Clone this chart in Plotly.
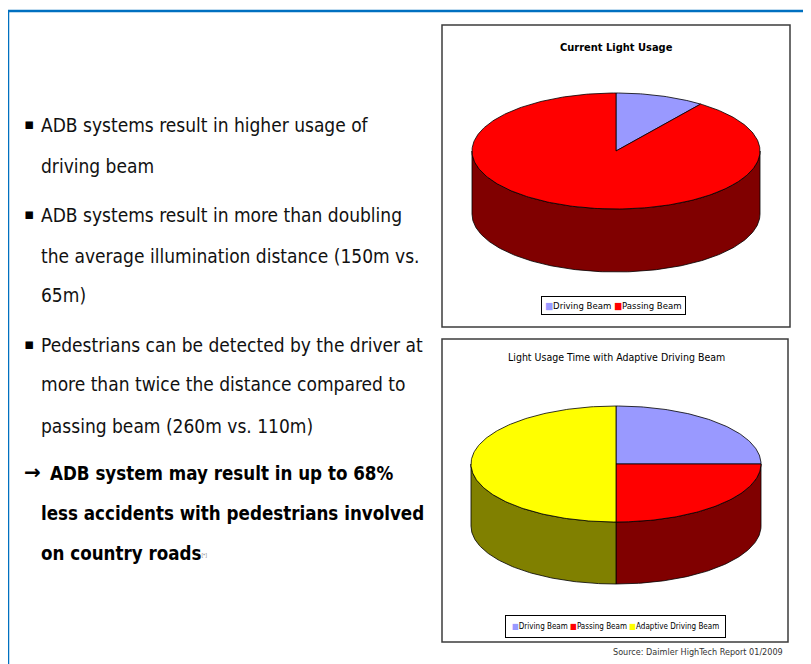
import numpy as np
import plotly.graph_objects as go

# ---------------- data ----------------
chart1_title = "Current Light Usage"
chart1_labels = ["Driving Beam", "Passing Beam"]
chart1_values = [10, 90]

chart2_title = "Light Usage Time with Adaptive Driving Beam"
chart2_labels = ["Driving Beam", "Passing Beam", "Adaptive Driving Beam"]
chart2_values = [25, 25, 50]

bullet_points = [
    ["ADB systems result in higher usage of", "driving beam"],
    ["ADB systems result in more than doubling",
     "the average illumination distance (150m vs.", "65m)"],
    ["Pedestrians can be detected by the driver at",
     "more than twice the distance compared to",
     "passing beam (260m vs. 110m)"],
]
conclusion_lines = ["ADB system may result in up to 68%",
                    "less accidents with pedestrians involved",
                    "on country roads"]
source_text = "Source: Daimler HighTech Report 01/2009"

# ---------------- styles ----------------
W, H = 811, 664
OFF = 8  # page body margin compensation
TOP_COL = {"Driving Beam": "#9999FF", "Passing Beam": "#FF0000",
           "Adaptive Driving Beam": "#FFFF00"}
SIDE_COL = {"Driving Beam": "#4C4C80", "Passing Beam": "#800000",
            "Adaptive Driving Beam": "#808000"}
NARROW = "Liberation Sans Narrow, Arial Narrow, DejaVu Sans Condensed, sans-serif"

PIE1 = dict(cx=616, cy=151, rx=144, ry=58, depth=63)
PIE2 = dict(cx=616, cy=464, rx=145, ry=58, depth=62)

fig = go.Figure()


def arc(g, a0, a1, dy=0.0):
    n = max(int(abs(a1 - a0)) + 2, 3)
    t = np.radians(np.linspace(a0, a1, n))
    return g["cx"] + g["rx"] * np.sin(t), g["cy"] - g["ry"] * np.cos(t) + dy


def add_pie3d(labels, values, g):
    total = float(sum(values))
    bounds = np.concatenate([[0.0], np.cumsum(values) / total * 360.0])
    # side walls (front half: 90..270 deg clockwise from 12 o'clock)
    for lab, a0, a1 in zip(labels, bounds[:-1], bounds[1:]):
        s, e = max(a0, 90.0), min(a1, 270.0)
        if e <= s:
            continue
        xt, yt = arc(g, s, e)
        xb, yb = arc(g, e, s, g["depth"])
        fig.add_trace(go.Scatter(
            x=np.concatenate([xt, xb, xt[:1]]), y=np.concatenate([yt, yb, yt[:1]]),
            mode="lines", fill="toself", fillcolor=SIDE_COL[lab],
            line=dict(color="black", width=0.8), hoverinfo="skip", showlegend=False))
    # top faces
    for lab, v, a0, a1 in zip(labels, values, bounds[:-1], bounds[1:]):
        xa, ya = arc(g, a0, a1)
        fig.add_trace(go.Scatter(
            x=np.concatenate([[g["cx"]], xa, [g["cx"]]]),
            y=np.concatenate([[g["cy"]], ya, [g["cy"]]]),
            mode="lines", fill="toself", fillcolor=TOP_COL[lab],
            line=dict(color="black", width=0.8), name=lab,
            hovertemplate=f"{lab}: {v}%<extra></extra>", showlegend=False))


add_pie3d(chart1_labels, chart1_values, PIE1)
add_pie3d(chart2_labels, chart2_values, PIE2)

shapes = [
    # slide frame (blue)
    dict(type="line", x0=8, x1=W, y0=11, y1=11, line=dict(color="#0070C0", width=2.5)),
    dict(type="line", x0=8, x1=8, y0=11, y1=H, line=dict(color="#0070C0", width=2.5)),
    # chart boxes
    dict(type="rect", x0=442, x1=790, y0=25, y1=327, line=dict(color="#3c3c3c", width=1.5)),
    dict(type="rect", x0=442, x1=788, y0=339, y1=642, line=dict(color="#3c3c3c", width=1.5)),
]

ann = []
# chart titles
ann.append(dict(x=616, y=47, text=f"<b>{chart1_title}</b>", font=dict(size=11, family=NARROW, color="black")))
ann.append(dict(x=616, y=357, text=chart2_title, font=dict(size=10.5, family=NARROW, color="black")))


def legend_text(labels):
    return " ".join(f"<span style='color:{TOP_COL[l]}'>■</span>{l}" for l in labels)


ann.append(dict(x=613, y=305, text=legend_text(chart1_labels), font=dict(size=9.5, family=NARROW, color="black"),
                bordercolor="black", borderwidth=1, borderpad=3, bgcolor="white"))
ann.append(dict(x=615, y=626, text=legend_text(chart2_labels), font=dict(size=8, family=NARROW, color="black"),
                bordercolor="black", borderwidth=1, borderpad=6, bgcolor="white"))
ann.append(dict(x=785, y=652, xanchor="right", text=source_text,
                font=dict(size=9, family=NARROW, color="#333333")))

# left text
BODY = 19
bullet_y = [[125, 166], [215, 256, 295], [345, 384, 426]]
for lines, ys in zip(bullet_points, bullet_y):
    ann.append(dict(x=22, y=ys[0] - 1, xanchor="left", text="▪",
                    font=dict(size=15, family="DejaVu Sans", color="black")))
    for t, y in zip(lines, ys):
        ann.append(dict(x=39, y=y, xanchor="left", text=t,
                        font=dict(size=BODY, family=NARROW, color="#111111")))

concl_y = [473, 513, 553]
ann.append(dict(x=22, y=concl_y[0] - 1, xanchor="left", text="<b>→</b>",
                font=dict(size=20, family="DejaVu Sans", color="black")))
for i, (t, y) in enumerate(zip(conclusion_lines, concl_y)):
    txt = f"<b>{t}</b>"
    if i == len(conclusion_lines) - 1:
        txt += "<span style='font-size:7px;color:#777'><sup>[*]</sup></span>"
    ann.append(dict(x=48 if i == 0 else 39, y=y, xanchor="left", text=txt,
                    font=dict(size=18.6, family=NARROW, color="black")))

for a in ann:
    a.update(xref="x", yref="y", showarrow=False)

fig.update_layout(
    width=W - OFF, height=H - OFF, margin=dict(l=0, r=0, t=0, b=0),
    paper_bgcolor="white", plot_bgcolor="white",
    xaxis=dict(range=[OFF, W], visible=False, fixedrange=True),
    yaxis=dict(range=[H, OFF], visible=False, fixedrange=True),
    shapes=shapes, annotations=ann, showlegend=False,
)
fig.write_html("out.html")
